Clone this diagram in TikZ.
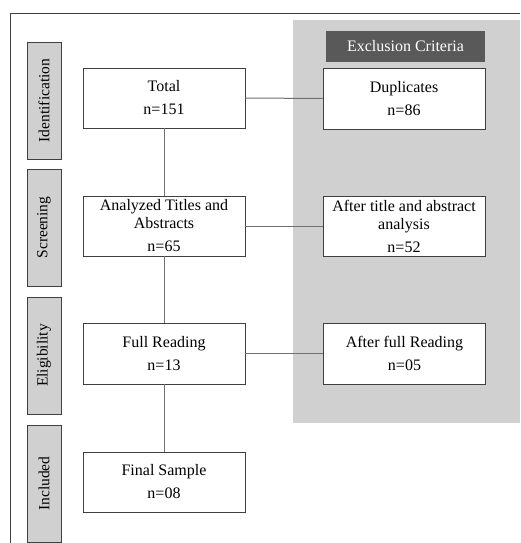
\documentclass[tikz,border=0pt]{standalone}
\usepackage{fontspec}
\setmainfont{Liberation Serif}
\definecolor{panel}{HTML}{D0D0D0}
\definecolor{hdr}{HTML}{595959}
\definecolor{edge}{HTML}{404040}
\definecolor{conn}{HTML}{707070}
\begin{document}
\begin{tikzpicture}[x=1pt,y=-1pt,
  box/.style={draw=edge,line width=0.9pt,fill=white,minimum width=162pt,minimum height=60pt,align=center,inner sep=1pt,font=\fontsize{16}{18}\selectfont},
  side/.style={draw=edge,line width=0.9pt,fill=panel,rotate=90,minimum width=117pt,minimum height=34pt,inner sep=0pt,font=\fontsize{15.5}{16}\selectfont},
  link/.style={draw=conn,line width=1pt}]
\useasboundingbox (0,0) rectangle (520,543);
\fill[white] (0,0) rectangle (520,543);
\fill[panel] (293,20) rectangle (520,423);
\draw[edge,line width=0.8pt] (10,543) -- (10,13) -- (520,13);
\node[fill=hdr,text=white,minimum width=159pt,minimum height=31pt,inner sep=0pt,font=\fontsize{16}{16}\selectfont] (hd) at (405.5,46.5) {Exclusion Criteria};
\node[side] (s1) at (44,100.5) {Identification};
\node[side] (s2) at (44,227.5) {Screening};
\node[side] (s3) at (44,355.5) {Eligibility};
\node[side] (s4) at (44,483.5) {Included};
\node[box] (t) at (164,98) {Total\\[5pt]n=151};
\node[box] (a) at (164,226) {Analyzed Titles and\\Abstracts\\[5pt]n=65};
\node[box,minimum height=61pt] (f) at (164,353.5) {Full Reading\\[5pt]n=13};
\node[box] (fs) at (164,482) {Final Sample\\[5pt]n=08};
\node[box,minimum height=61pt] (d) at (404,98.5) {Duplicates\\[5pt]n=86};
\node[box] (at) at (404,226) {After title and abstract\\analysis\\[5pt]n=52};
\node[box,minimum height=61pt] (af) at (404.5,353.5) {After full Reading\\[5pt]n=05};
\draw[link] (t) -- (a);
\draw[link] (a) -- (f);
\draw[link] (f) -- (fs);
\draw[link] (t) -- (d);
\draw[link] (a) -- (at);
\draw[link] (f) -- (af);
\end{tikzpicture}
\end{document}
